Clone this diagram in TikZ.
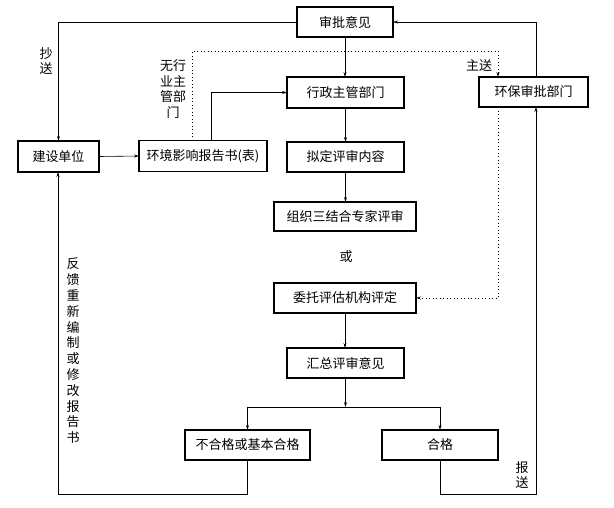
\documentclass[tikz,border=0pt]{standalone}
\usepackage{fontspec}
\setmainfont{Noto Sans CJK SC}
\usetikzlibrary{arrows.meta}
\begin{document}
\begin{tikzpicture}[x=1pt,y=-1pt,
  font=\fontsize{13}{15.5}\selectfont,
  box/.style={draw,line width=1.1pt,inner sep=0pt,outer sep=0pt,minimum height=30pt},
  conn/.style={line width=0.6pt,-{Stealth[length=5pt,width=3pt]}},
  dotconn/.style={line width=0.8pt,dash pattern=on 0.9pt off 2.6pt,-{Stealth[length=5pt,width=3pt]}},
  lbl/.style={inner sep=0pt,align=center}]
\useasboundingbox (0,0) rectangle (614,507);
% boxes
\node[box,minimum width=96pt] (sp) at (345,22) {审批意见};
\node[box,minimum width=81pt,minimum height=31pt] (js) at (58.5,156.5) {建设单位};
\node[box,minimum width=128pt,minimum height=31pt] (hj) at (203,156) {环境影响报告书(表)};
\node[box,minimum width=117pt,minimum height=31pt] (xz) at (345.5,92.5) {行政主管部门};
\node[box,minimum width=117pt] (nd) at (345.5,157) {拟定评审内容};
\node[box,minimum width=142pt,minimum height=29pt] (zz) at (345,216.5) {组织三结合专家评审};
\node[box,minimum width=142pt] (wt) at (345,298) {委托评估机构评定};
\node[box,minimum width=117pt] (hz) at (345.5,363) {汇总评审意见};
\node[box,minimum width=125pt] (bh) at (247.5,445) {不合格或基本合格};
\node[box,minimum width=116pt] (hg) at (440,445) {合格};
\node[box,minimum width=109pt] (hb) at (533.5,92) {环保审批部门};
% labels
\node[lbl] (l1) at (46,61) {抄\\送};
\node[lbl] (l2) at (479,66) {主送};
\node[lbl] (l3) at (173,89) {无行\\业主\\管部\\门};
\node[lbl] (l4) at (346,257) {或};
\node[lbl,font=\fontsize{13}{15.8}\selectfont] (l5) at (73,351) {反\\馈\\重\\新\\编\\制\\或\\修\\改\\报\\告\\书};
\node[lbl] (l6) at (522,475) {报\\送};
% coordinates
\coordinate (d1) at (192,51);
\coordinate (d2) at (498,51);
\coordinate (split) at (345.5,407);
\coordinate (fb) at (58,494);
\coordinate (bs) at (536,494);
% connectors
\draw[conn] (sp.west) -| (js.north);
\draw[conn] (js.east) -- (hj.west);
\draw[conn] ([xshift=8pt]hj.north) |- (xz.west);
\draw[dotconn] (hj.north -| d1) -- (d1) -- (d2) -- (d2 |- hb.north);
\draw[dotconn] (hb.south -| d2) |- (wt.east);
\draw[conn] (sp.south) -- (sp.south |- xz.north);
\draw[conn] (xz.south) -- (nd.north);
\draw[conn] (nd.south) -- (nd.south |- zz.north);
\draw[conn] (wt.south) -- (wt.south |- hz.north);
\draw[conn] (hz.south) -- (split);
\draw[conn] (split) -| (bh.north);
\draw[conn] (split) -| (hg.north);
\draw[conn] (bh.south) |- (fb) -- (js.south -| fb);
\draw[conn] (hg.south) |- (bs) -- (bs |- hb.south);
\draw[conn] (hb.north -| bs) |- (sp.east);
\end{tikzpicture}
\end{document}
